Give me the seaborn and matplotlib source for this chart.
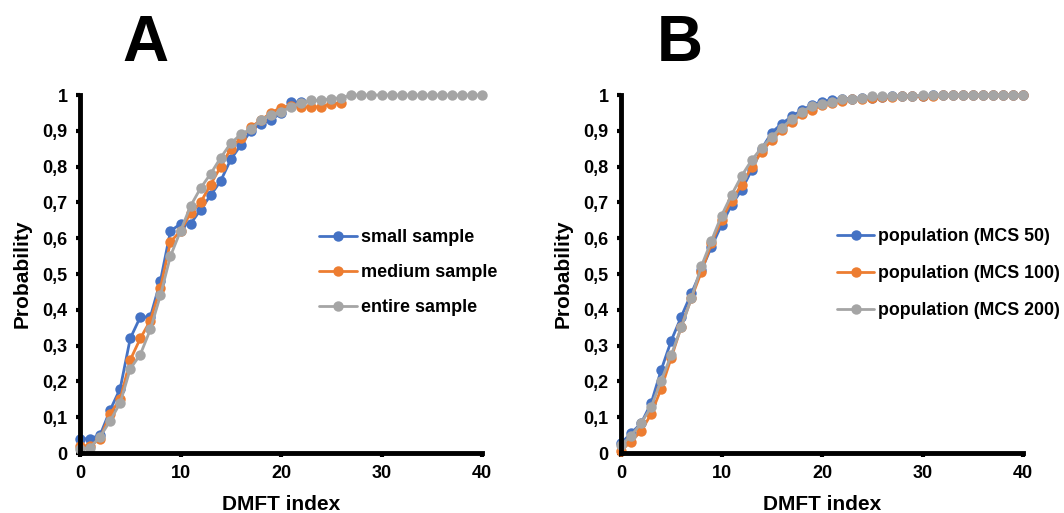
import numpy as np
import pandas as pd
import matplotlib
matplotlib.use("Agg")
import matplotlib.pyplot as plt
import seaborn as sns

# ---- data ----
a_labels = ["small sample", "medium sample", "entire sample"]
a_small = [0.04, 0.04, 0.05, 0.12, 0.18, 0.32, 0.38, 0.38, 0.48, 0.62, 0.64, 0.64,
           0.68, 0.72, 0.76, 0.82, 0.86, 0.90, 0.92, 0.93, 0.95, 0.98, 0.98]
a_medium = [0.02, 0.02, 0.04, 0.11, 0.15, 0.26, 0.32, 0.37, 0.46, 0.59, 0.62, 0.67,
            0.70, 0.75, 0.80, 0.85, 0.88, 0.91, 0.93, 0.95, 0.965, 0.97, 0.967, 0.967,
            0.967, 0.975, 0.978]
a_entire = [0.01, 0.015, 0.045, 0.09, 0.14, 0.235, 0.275, 0.345, 0.44, 0.55, 0.62, 0.69,
            0.74, 0.78, 0.825, 0.865, 0.89, 0.905, 0.93, 0.945, 0.953, 0.967, 0.978, 0.985,
            0.985, 0.99, 0.992, 1.0, 1.0, 1.0, 1.0, 1.0, 1.0, 1.0, 1.0, 1.0, 1.0, 1.0,
            1.0, 1.0, 1.0]

b_labels = ["population (MCS 50)", "population (MCS 100)", "population (MCS 200)"]
b_mcs50 = [0.027, 0.055, 0.083, 0.139, 0.232, 0.314, 0.381, 0.446, 0.51, 0.576, 0.637,
           0.693, 0.735, 0.79, 0.85, 0.895, 0.92, 0.94, 0.958, 0.972, 0.981, 0.987, 0.99,
           0.99, 0.992, 0.993, 0.994, 0.996, 0.997, 0.998, 0.998, 0.999, 0.999, 1.0, 1.0,
           1.0, 1.0, 1.0, 1.0, 1.0, 1.0]
b_mcs100 = [0.006, 0.032, 0.061, 0.109, 0.18, 0.266, 0.353, 0.432, 0.506, 0.586, 0.651,
            0.705, 0.749, 0.798, 0.842, 0.874, 0.902, 0.925, 0.946, 0.958, 0.972, 0.978,
            0.984, 0.988, 0.99, 0.992, 0.994, 0.995, 0.996, 0.997, 0.998, 0.998, 0.999,
            0.999, 1.0, 1.0, 1.0, 1.0, 1.0, 1.0, 1.0]
b_mcs200 = [0.022, 0.048, 0.083, 0.129, 0.202, 0.274, 0.351, 0.432, 0.522, 0.593, 0.663,
            0.721, 0.774, 0.818, 0.853, 0.884, 0.909, 0.932, 0.953, 0.969, 0.975, 0.98,
            0.988, 0.99, 0.992, 0.996, 0.996, 0.997, 0.998, 0.998, 0.999, 0.999, 1.0, 1.0,
            1.0, 1.0, 1.0, 1.0, 1.0, 1.0, 1.0]

x_ticks = [0, 10, 20, 30, 40]
y_ticks = [round(i * 0.1, 1) for i in range(11)]
y_ticklabels = ["0"] + [f"0,{i}" for i in range(1, 10)] + ["1"]

colors = ["#4472C4", "#ED7D31", "#A5A5A5"]

# ---- style ----
sns.set_theme(style="white")
plt.rcParams["font.family"] = ["Liberation Sans", "DejaVu Sans"]
plt.rcParams["font.weight"] = "bold"
plt.rcParams["text.color"] = "black"
plt.rcParams["axes.labelcolor"] = "black"
plt.rcParams["xtick.color"] = "black"
plt.rcParams["ytick.color"] = "black"

fig = plt.figure(figsize=(10.64, 5.13), dpi=100)
axA = fig.add_axes([80 / 1064, 1 - 453 / 513, 402 / 1064, 358 / 513])
axB = fig.add_axes([621 / 1064, 1 - 453 / 513, 402 / 1064, 358 / 513])


def draw(ax, series, labels, legend_anchor, legend_fs, spacing):
    for vals, lab, col in zip(series, labels, colors):
        df = pd.DataFrame({"DMFT index": np.arange(len(vals)), "Probability": vals})
        sns.lineplot(data=df, x="DMFT index", y="Probability", ax=ax, color=col,
                     marker="o", markersize=7.5, markeredgewidth=0, linewidth=2.0,
                     label=lab, clip_on=False)
    ax.set_xlim(0, 40)
    ax.set_ylim(0, 1)
    ax.set_xticks(x_ticks)
    ax.set_xticklabels([str(t) for t in x_ticks], fontsize=13, fontweight="bold")
    ax.set_yticks(y_ticks)
    ax.set_yticklabels(y_ticklabels, fontsize=13, fontweight="bold")
    ax.set_xlabel("DMFT index", fontsize=15, fontweight="bold", labelpad=9)
    ax.set_ylabel("Probability", fontsize=15, fontweight="bold", labelpad=8)
    for s in ["top", "right"]:
        ax.spines[s].set_visible(False)
    for s in ["left", "bottom"]:
        ax.spines[s].set_linewidth(3.5)
        ax.spines[s].set_color("black")
    ax.tick_params(axis="both", direction="out", length=3, width=3, color="black",
                   pad=6, left=True, bottom=True)
    leg = ax.legend(loc="upper left", bbox_to_anchor=legend_anchor, frameon=False,
                    fontsize=legend_fs, handlelength=2.1, handletextpad=0.2,
                    labelspacing=spacing, borderaxespad=0)
    for t in leg.get_texts():
        t.set_fontweight("bold")


draw(axA, [a_small, a_medium, a_entire], a_labels, (0.577, 0.645), 13, 1.0)
draw(axB, [b_mcs50, b_mcs100, b_mcs200], b_labels, (0.52, 0.648), 12.8, 1.12)

fig.text(145 / 1064, 1 - 44 / 513, "A", fontsize=46, fontweight="bold",
         ha="center", va="center")
fig.text(680 / 1064, 1 - 44 / 513, "B", fontsize=46, fontweight="bold",
         ha="center", va="center")

fig.savefig("out.png", dpi=100)
